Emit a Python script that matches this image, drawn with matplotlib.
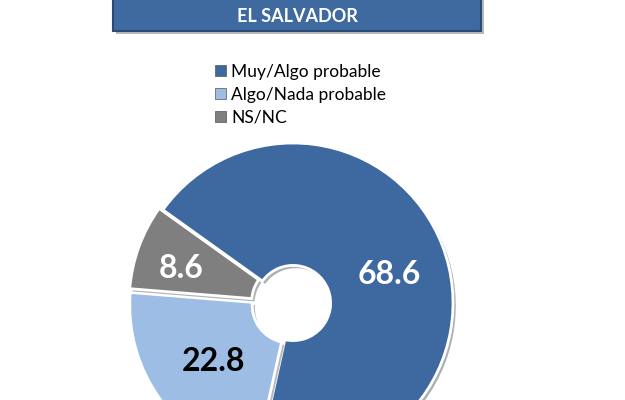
import matplotlib.pyplot as plt
import matplotlib.patches as mpatches
import matplotlib.patheffects as pe
import numpy as np

# Data
categories = ['Muy/Algo probable', 'Algo/Nada probable', 'NS/NC']
values = [68.6, 22.8, 8.6]
colors = ['#3E68A0', '#9DBDE4', '#7F7F7F']
label_colors = ['white', 'black', 'white']
title = 'EL SALVADOR'

plt.rcParams['font.family'] = ['Lato', 'DejaVu Sans']

fig = plt.figure(figsize=(6.25, 4), dpi=100)
ax = fig.add_axes([0, 0, 1, 1])

# pie in pixel-like coordinates
cx, cy, r = 293, 97, 160
start = 144.4
wedges, _ = ax.pie(values, colors=colors, startangle=start, counterclock=False,
                   center=(cx, cy), radius=r, explode=[0, 4, 4],
                   wedgeprops=dict(width=r * 0.765, edgecolor='white', linewidth=2))
for w in wedges:
    w.set_path_effects([pe.SimplePatchShadow(offset=(2, -2), alpha=0.35), pe.Normal()])

# value labels (distance from centre, small angle nudge)
dist = [0.63, 0.62, 0.73]
nudge = [-4.5, 0, 2.8]
theta = start
for v, d, n, c in zip(values, dist, nudge, label_colors):
    mid = np.deg2rad(theta - v * 3.6 / 2 + n)
    theta -= v * 3.6
    ax.text(cx + d * r * np.cos(mid), cy + d * r * np.sin(mid), f'{v:.1f}',
            ha='center', va='center', fontsize=23, fontweight='bold', color=c)

# title box
box = mpatches.Rectangle((113, 369), 368, 40, facecolor='#3F6A9F', edgecolor='#2A4A78',
                         linewidth=1.5)
box.set_path_effects([pe.SimplePatchShadow(offset=(2, -2), alpha=0.3), pe.Normal()])
ax.add_patch(box)
ax.text(297, 384, title, ha='center', va='center', fontsize=13, fontweight='bold',
        color='white')

ax.set_xlim(0, 625)
ax.set_ylim(0, 400)
ax.set_aspect('equal')
ax.axis('off')

handles = [mpatches.Patch(facecolor=c, edgecolor='#555555', linewidth=0.5) for c in colors]
fig.legend(handles, categories, loc='upper left', bbox_to_anchor=(199 / 625, 1 - 48 / 400),
           frameon=False, fontsize=12.5, handlelength=0.65, handleheight=0.65,
           handletextpad=0.3, labelspacing=0.4)

fig.savefig('out.png', dpi=100, facecolor='white')
